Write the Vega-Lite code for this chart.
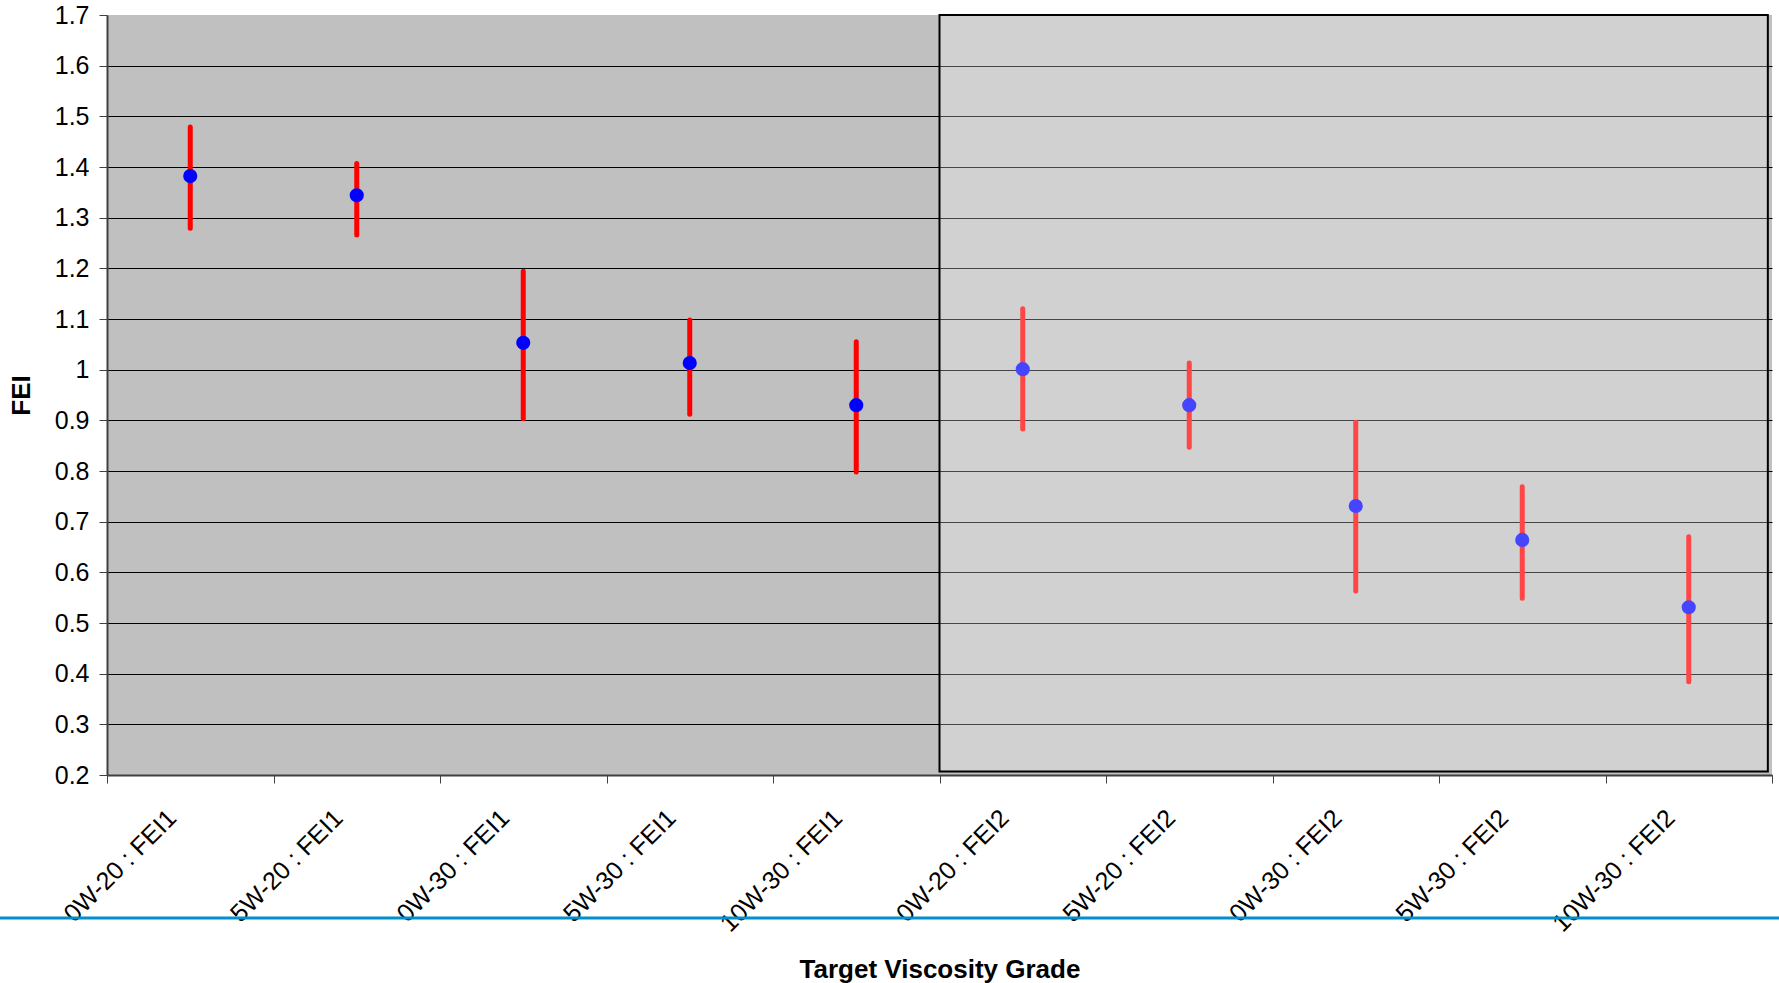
{
  "$schema": "https://vega.github.io/schema/vega-lite/v6.json",
  "width": 1665,
  "height": 760,
  "autosize": {"type": "none"},
  "padding": {"left": 107, "top": 15, "right": 7, "bottom": 208},
  "background": "white",
  "config": {
    "font": "Liberation Sans",
    "view": {"fill": "#c0c0c0", "stroke": null}
  },
  "data": {
    "values": [
      {"grade": "0W-20 : FEI1", "fei": 1.382, "lo": 1.279, "hi": 1.479},
      {"grade": "5W-20 : FEI1", "fei": 1.344, "lo": 1.266, "hi": 1.407},
      {"grade": "0W-30 : FEI1", "fei": 1.053, "lo": 0.903, "hi": 1.194},
      {"grade": "5W-30 : FEI1", "fei": 1.013, "lo": 0.912, "hi": 1.098},
      {"grade": "10W-30 : FEI1", "fei": 0.930, "lo": 0.798, "hi": 1.055},
      {"grade": "0W-20 : FEI2", "fei": 1.001, "lo": 0.883, "hi": 1.120},
      {"grade": "5W-20 : FEI2", "fei": 0.930, "lo": 0.847, "hi": 1.013},
      {"grade": "0W-30 : FEI2", "fei": 0.731, "lo": 0.563, "hi": 0.896},
      {"grade": "5W-30 : FEI2", "fei": 0.664, "lo": 0.549, "hi": 0.769},
      {"grade": "10W-30 : FEI2", "fei": 0.531, "lo": 0.384, "hi": 0.670}
    ]
  },
  "resolve": {"scale": {"x": "independent"}},
  "layer": [
    {
      "layer": [
        {
          "mark": {"type": "rule", "color": "#ff0000", "strokeWidth": 5, "strokeCap": "round"},
          "encoding": {
            "x": {
              "field": "grade", "type": "nominal", "sort": null,
              "scale": {"paddingInner": 0, "paddingOuter": 0},
              "axis": {
                "title": "Target Viscosity Grade",
                "titleFontSize": 26, "titleFontWeight": "bold", "titleColor": "black",
                "titleBaseline": "alphabetic", "titleY": 202,
                "labelAngle": -45, "labelAlign": "right", "labelBaseline": "top",
                "labelFontSize": 25, "labelColor": "black", "labelPadding": 22, "labelOffset": -27,
                "tickBand": "extent", "tickSize": 8, "tickColor": "#404040",
                "domainColor": "#404040", "domainWidth": 2, "grid": false
              }
            },
            "y": {
              "field": "lo", "type": "quantitative",
              "scale": {"domain": [0.2, 1.7], "nice": false, "zero": false},
              "axis": {
                "title": "FEI",
                "titleFontSize": 26, "titleFontWeight": "bold", "titleColor": "black",
                "titleBaseline": "alphabetic", "titleX": -78,
                "values": [0.2, 0.3, 0.4, 0.5, 0.6, 0.7, 0.8, 0.9, 1, 1.1, 1.2, 1.3, 1.4, 1.5, 1.6, 1.7],
                "format": "~g",
                "labelFontSize": 25, "labelColor": "black", "labelPadding": 10,
                "tickSize": 8, "tickColor": "#404040",
                "domainColor": "#404040", "domainWidth": 2,
                "grid": true, "gridOpacity": 1, "gridWidth": 1,
                "gridColor": {"condition": {"test": "datum.value >= 1.7", "value": "transparent"}, "value": "black"}
              }
            },
            "y2": {"field": "hi"}
          }
        },
        {
          "mark": {"type": "circle", "color": "#0000ff", "opacity": 1, "size": 200},
          "encoding": {
            "x": {"field": "grade", "type": "nominal", "sort": null},
            "y": {"field": "fei", "type": "quantitative"}
          }
        }
      ]
    },
    {
      "data": {"values": [{"panel": "FEI2"}]},
      "layer": [
        {
          "mark": {"type": "rect", "fill": "white", "fillOpacity": 0.27, "stroke": "black", "strokeWidth": 2},
          "encoding": {
            "x": {"datum": 5, "type": "quantitative", "scale": {"domain": [0, 10]}, "axis": null},
            "x2": {"datum": 9.975},
            "y": {"datum": 1.7, "type": "quantitative"},
            "y2": {"datum": 0.207}
          }
        },
        {
          "mark": {"type": "rule", "color": "#0090cc", "strokeWidth": 3, "clip": false},
          "encoding": {
            "x": {"datum": -0.643, "type": "quantitative"},
            "x2": {"datum": 10.05},
            "y": {"datum": -0.082, "type": "quantitative"}
          }
        }
      ]
    }
  ]
}
